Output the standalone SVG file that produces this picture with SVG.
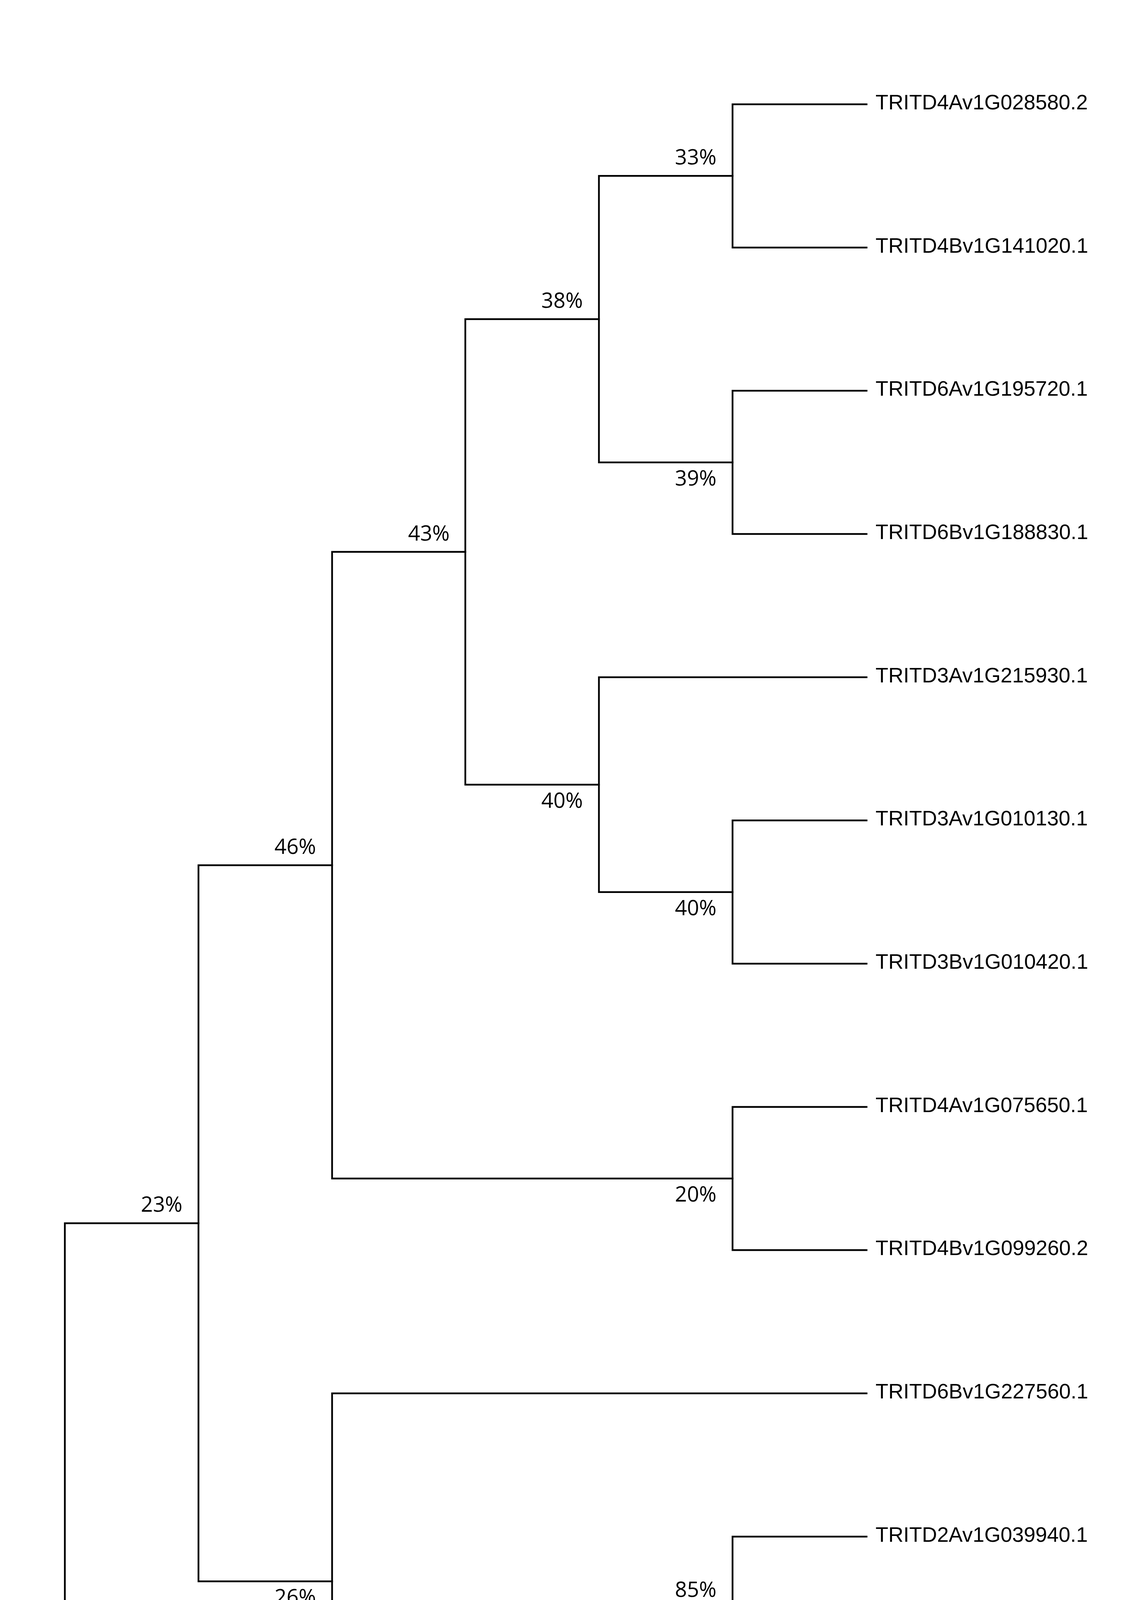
<svg xmlns="http://www.w3.org/2000/svg" width="2900" height="6000" viewBox="0 0 2900 6000">
<style>
.e{fill:none;stroke:#000;stroke-width:4.5;stroke-linecap:square;stroke-linejoin:miter}
.leaf{font-family:"Liberation Sans",Arial,sans-serif;font-size:53.5px;fill:#000}
.pct{font-family:"Open Sans","Noto Sans",sans-serif;font-size:54px;fill:#000;text-anchor:end}
</style>
<rect x="0" y="0" width="2900" height="6000" fill="#fff"/>
<g id="connectors">
<path class="e" d="M1875,267V633.67M1875,267H2218M1875,633.67H2218"/>
<path class="e" d="M1875,1000.33V1367M1875,1000.33H2218M1875,1367H2218"/>
<path class="e" d="M1533,450.33V1183.67M1533,450.33H1875M1533,1183.67H1875"/>
<path class="e" d="M1875,2100.33V2467M1875,2100.33H2218M1875,2467H2218"/>
<path class="e" d="M1533,1733.67V2283.67M1533,1733.67H2218M1533,2283.67H1875"/>
<path class="e" d="M1191,817V2008.67M1191,817H1533M1191,2008.67H1533"/>
<path class="e" d="M1875,2833.67V3200.33M1875,2833.67H2218M1875,3200.33H2218"/>
<path class="e" d="M850,1412.83V3017M850,1412.83H1191M850,3017H1875"/>
<path class="e" d="M1875,3933.67V4300.33M1875,3933.67H2218M1875,4300.33H2218"/>
<path class="e" d="M1875,5033.67V5400.33M1875,5033.67H2218M1875,5400.33H2218"/>
<path class="e" d="M1533,4667V5217M1533,4667H2218M1533,5217H1875"/>
<path class="e" d="M1191,4117V4942M1191,4117H1875M1191,4942H1533"/>
<path class="e" d="M850,3567V4529.5M850,3567H2218M850,4529.5H1191"/>
<path class="e" d="M508,2214.92V4048.25M508,2214.92H850M508,4048.25H850"/>
<path class="e" d="M166,3131.58V5767M166,3131.58H508M166,5767H2218"/>
</g>
<g id="leaves">
<g id="leaf1"><text class="leaf" x="2241" y="280">TRITD4Av1G028580.2</text></g>
<g id="leaf2"><text class="leaf" x="2241" y="646.67">TRITD4Bv1G141020.1</text></g>
<g id="leaf3"><text class="leaf" x="2241" y="1013.33">TRITD6Av1G195720.1</text></g>
<g id="leaf4"><text class="leaf" x="2241" y="1380">TRITD6Bv1G188830.1</text></g>
<g id="leaf5"><text class="leaf" x="2241" y="1746.67">TRITD3Av1G215930.1</text></g>
<g id="leaf6"><text class="leaf" x="2241" y="2113.33">TRITD3Av1G010130.1</text></g>
<g id="leaf7"><text class="leaf" x="2241" y="2480">TRITD3Bv1G010420.1</text></g>
<g id="leaf8"><text class="leaf" x="2241" y="2846.67">TRITD4Av1G075650.1</text></g>
<g id="leaf9"><text class="leaf" x="2241" y="3213.33">TRITD4Bv1G099260.2</text></g>
<g id="leaf10"><text class="leaf" x="2241" y="3580">TRITD6Bv1G227560.1</text></g>
<g id="leaf11"><text class="leaf" x="2241" y="3946.67">TRITD2Av1G039940.1</text></g>
<g id="leaf12"><text class="leaf" x="2241" y="4313.33">TRITD2Bv1G053810.1</text></g>
<g id="leaf13"><text class="leaf" x="2241" y="4680">TRITD1Av1G024340.1</text></g>
<g id="leaf14"><text class="leaf" x="2241" y="5046.67">TRITD1Bv1G032000.1</text></g>
<g id="leaf15"><text class="leaf" x="2241" y="5413.33">TRITD4Bv1G185790.1</text></g>
<g id="leaf16"><text class="leaf" x="2241" y="5780">TRITD6Av1G226840.1</text></g>
</g>
<g id="support">
<g id="nA"><text class="pct" x="1834" y="421">33%</text></g>
<g id="nB"><text class="pct" x="1834" y="1243">39%</text></g>
<g id="nC"><text class="pct" x="1492" y="788">38%</text></g>
<g id="nD"><text class="pct" x="1834" y="2343">40%</text></g>
<g id="nE"><text class="pct" x="1492" y="2068">40%</text></g>
<g id="nF"><text class="pct" x="1151" y="1384">43%</text></g>
<g id="nG"><text class="pct" x="1834" y="3076">20%</text></g>
<g id="nH"><text class="pct" x="809" y="2186">46%</text></g>
<g id="nI"><text class="pct" x="1834" y="4088">85%</text></g>
<g id="nJ"><text class="pct" x="1834" y="5276">43%</text></g>
<g id="nK"><text class="pct" x="1492" y="5001">39%</text></g>
<g id="nL"><text class="pct" x="1151" y="4589">46%</text></g>
<g id="nM"><text class="pct" x="809" y="4107">26%</text></g>
<g id="nN"><text class="pct" x="467" y="3102">23%</text></g>
</g>
</svg>
